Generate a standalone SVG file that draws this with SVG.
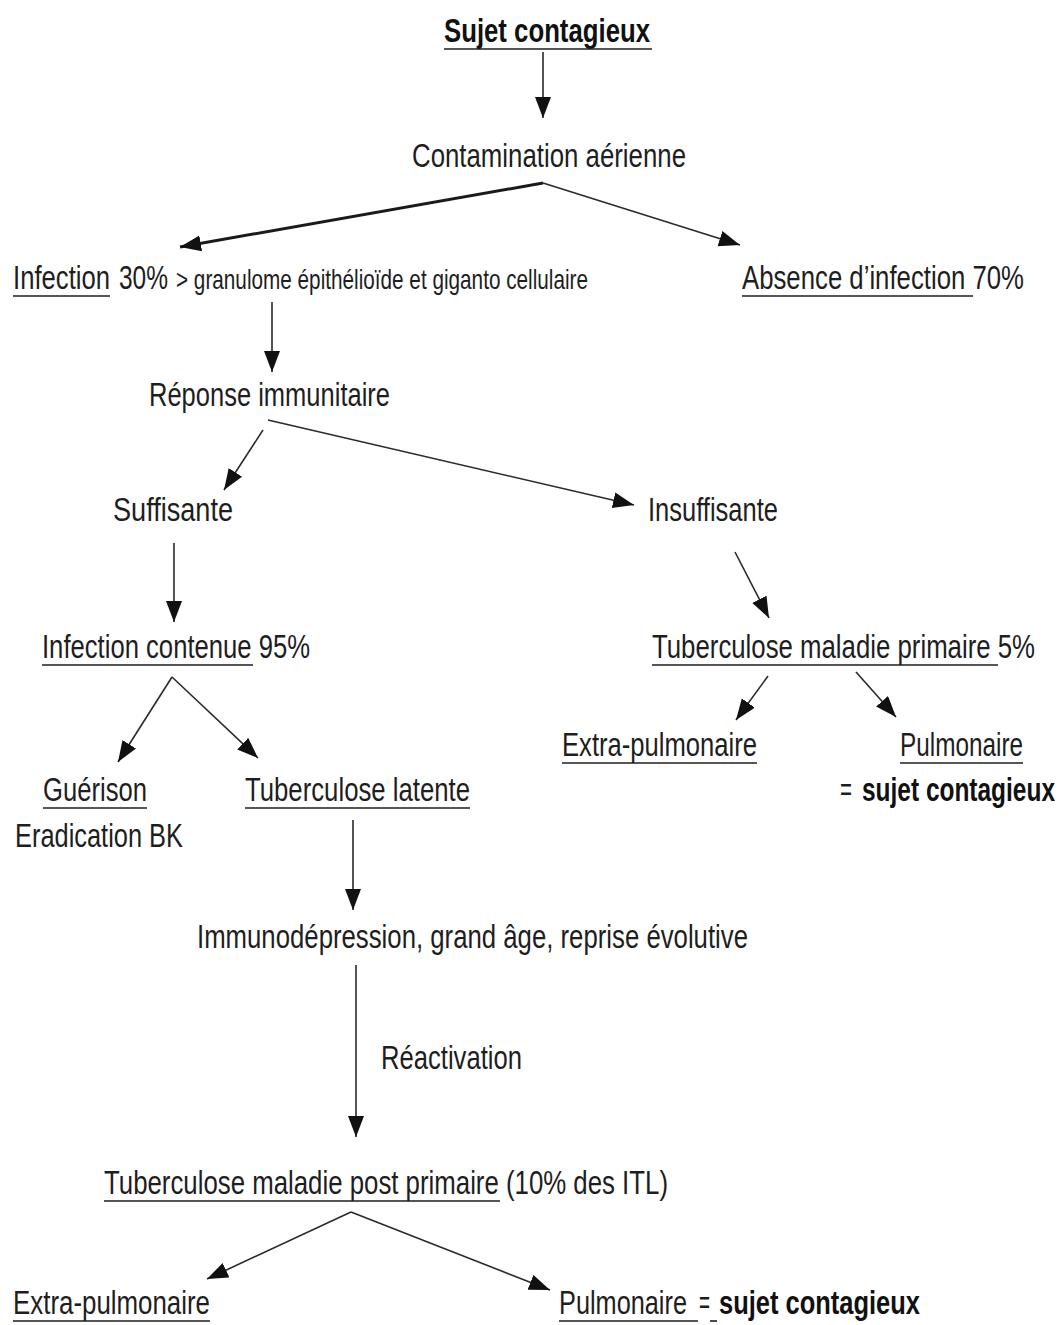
<svg xmlns="http://www.w3.org/2000/svg" width="1063" height="1325" viewBox="0 0 1063 1325">
  <style>
    .t { font-family: "Liberation Sans", Arial, sans-serif; font-size: 33px; fill: #1e1e1e; }
    .b { font-weight: bold; fill: #111; }
    .s { font-size: 28px; }
    .u { stroke: #1e1e1e; stroke-width: 1.6; }
    .c { stroke: #2a2a2a; stroke-width: 1.6; fill: none; }
    .thick { stroke: #1a1a1a; stroke-width: 3; }
  </style>
  <defs>
    <marker id="arrow" markerUnits="userSpaceOnUse" markerWidth="24" markerHeight="18" refX="21" refY="8" orient="auto">
      <path d="M0,0 L21,8 L0,16 Z" fill="#111"/>
    </marker>
  </defs>
  <rect width="1063" height="1325" fill="#ffffff"/>

  <!-- connectors -->
  <g id="connectors">
    <line class="c" x1="543" y1="52" x2="543" y2="118" marker-end="url(#arrow)"/>
    <line class="c thick" x1="543" y1="183" x2="180" y2="247" marker-end="url(#arrow)"/>
    <line class="c" x1="543" y1="183" x2="740" y2="245" marker-end="url(#arrow)"/>
    <line class="c" x1="272" y1="302" x2="272" y2="372" marker-end="url(#arrow)"/>
    <line class="c" x1="263" y1="430" x2="224" y2="490" marker-end="url(#arrow)"/>
    <line class="c" x1="268" y1="420" x2="634" y2="505" marker-end="url(#arrow)"/>
    <line class="c" x1="174" y1="543" x2="174" y2="622" marker-end="url(#arrow)"/>
    <line class="c" x1="735" y1="552" x2="769" y2="618" marker-end="url(#arrow)"/>
    <line class="c" x1="172" y1="677" x2="118" y2="762" marker-end="url(#arrow)"/>
    <line class="c" x1="172" y1="677" x2="258" y2="758" marker-end="url(#arrow)"/>
    <line class="c" x1="768" y1="676" x2="736" y2="720" marker-end="url(#arrow)"/>
    <line class="c" x1="856" y1="672" x2="896" y2="717" marker-end="url(#arrow)"/>
    <line class="c" x1="353" y1="820" x2="353" y2="910" marker-end="url(#arrow)"/>
    <line class="c" x1="356" y1="965" x2="356" y2="1137" marker-end="url(#arrow)"/>
    <line class="c" x1="351" y1="1212" x2="207" y2="1279" marker-end="url(#arrow)"/>
    <line class="c" x1="351" y1="1212" x2="550" y2="1290" marker-end="url(#arrow)"/>
  </g>

  <g id="sujet-contagieux">
    <text class="t b" x="444" y="42" font-size="35" textLength="206" lengthAdjust="spacingAndGlyphs">Sujet contagieux</text>
    <line class="u" x1="444" y1="49" x2="652" y2="49" stroke-width="2.2"/>
  </g>

  <g id="contamination">
    <text class="t" x="412" y="167" textLength="274" lengthAdjust="spacingAndGlyphs">Contamination aérienne</text>
  </g>

  <g id="infection">
    <text class="t" x="13" y="289" textLength="97" lengthAdjust="spacingAndGlyphs">Infection</text>
    <line class="u" x1="13" y1="296" x2="110" y2="296"/>
    <text class="t" x="119" y="289" textLength="49" lengthAdjust="spacingAndGlyphs">30%</text>
    <text class="t s" x="176" y="289" textLength="412" lengthAdjust="spacingAndGlyphs">&gt; granulome épithélioïde et giganto cellulaire</text>
  </g>

  <g id="absence-infection">
    <text class="t" x="742" y="289" textLength="282" lengthAdjust="spacingAndGlyphs">Absence d’infection 70%</text>
    <line class="u" x1="742" y1="296" x2="973" y2="296"/>
  </g>

  <g id="reponse-immunitaire">
    <text class="t" x="149" y="406" textLength="241" lengthAdjust="spacingAndGlyphs">Réponse immunitaire</text>
  </g>

  <g id="suffisante">
    <text class="t" x="113" y="521" textLength="120" lengthAdjust="spacingAndGlyphs">Suffisante</text>
  </g>

  <g id="insuffisante">
    <text class="t" x="648" y="521" textLength="130" lengthAdjust="spacingAndGlyphs">Insuffisante</text>
  </g>

  <g id="infection-contenue">
    <text class="t" x="42" y="658" textLength="268" lengthAdjust="spacingAndGlyphs">Infection contenue 95%</text>
    <line class="u" x1="42" y1="665" x2="253" y2="665"/>
  </g>

  <g id="tuberculose-primaire">
    <text class="t" x="652" y="658" textLength="383" lengthAdjust="spacingAndGlyphs">Tuberculose maladie primaire 5%</text>
    <line class="u" x1="652" y1="665" x2="998" y2="665"/>
  </g>

  <g id="extra-pulmonaire-primaire">
    <text class="t" x="562" y="756" textLength="195" lengthAdjust="spacingAndGlyphs">Extra-pulmonaire</text>
    <line class="u" x1="562" y1="763" x2="757" y2="763"/>
  </g>

  <g id="pulmonaire-primaire">
    <text class="t" x="900" y="756" textLength="123" lengthAdjust="spacingAndGlyphs">Pulmonaire</text>
    <line class="u" x1="900" y1="763" x2="1023" y2="763"/>
    <text class="t" x="840" y="801" textLength="12" lengthAdjust="spacingAndGlyphs">=</text>
    <text class="t b" x="862" y="801" textLength="193" lengthAdjust="spacingAndGlyphs">sujet contagieux</text>
  </g>

  <g id="guerison">
    <text class="t" x="43" y="801" textLength="104" lengthAdjust="spacingAndGlyphs">Guérison</text>
    <line class="u" x1="43" y1="808" x2="147" y2="808"/>
    <text class="t" x="15" y="847" textLength="168" lengthAdjust="spacingAndGlyphs">Eradication BK</text>
  </g>

  <g id="tuberculose-latente">
    <text class="t" x="245" y="801" textLength="225" lengthAdjust="spacingAndGlyphs">Tuberculose latente</text>
    <line class="u" x1="245" y1="808" x2="470" y2="808"/>
  </g>

  <g id="immunodepression">
    <text class="t" x="197" y="948" textLength="551" lengthAdjust="spacingAndGlyphs">Immunodépression, grand âge, reprise évolutive</text>
  </g>

  <g id="reactivation">
    <text class="t" x="381" y="1069" textLength="141" lengthAdjust="spacingAndGlyphs">Réactivation</text>
  </g>

  <g id="tuberculose-post-primaire">
    <text class="t" x="104" y="1194" textLength="564" lengthAdjust="spacingAndGlyphs">Tuberculose maladie post primaire (10% des ITL)</text>
    <line class="u" x1="104" y1="1201" x2="500" y2="1201"/>
  </g>

  <g id="extra-pulmonaire-post">
    <text class="t" x="13" y="1314" textLength="197" lengthAdjust="spacingAndGlyphs">Extra-pulmonaire</text>
    <line class="u" x1="13" y1="1321" x2="210" y2="1321"/>
  </g>

  <g id="pulmonaire-post">
    <text class="t" x="559" y="1314" textLength="128" lengthAdjust="spacingAndGlyphs">Pulmonaire</text>
    <line class="u" x1="559" y1="1321" x2="698" y2="1321"/>
    <text class="t" x="699" y="1314" textLength="11" lengthAdjust="spacingAndGlyphs">=</text>
    <line class="u" x1="710" y1="1321" x2="717" y2="1321"/>
    <text class="t b" x="719" y="1314" textLength="201" lengthAdjust="spacingAndGlyphs">sujet contagieux</text>
  </g>
</svg>
